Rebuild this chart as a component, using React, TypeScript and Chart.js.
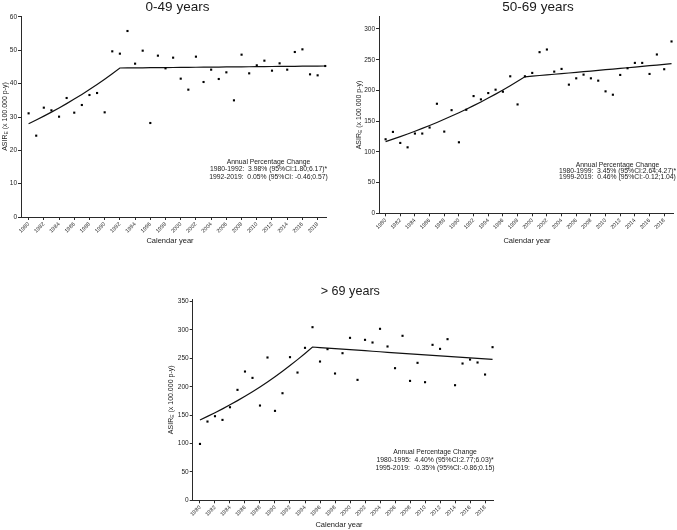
import React, { useEffect, useRef } from "react";
import { Chart, registerables } from "chart.js";

Chart.register(...registerables);

const FONT = "'Liberation Sans', Arial, Helvetica, sans-serif";
const INK = "#1a1a1a";

// Calendar years of the series
const years = [
  1980, 1981, 1982, 1983, 1984, 1985, 1986, 1987, 1988, 1989,
  1990, 1991, 1992, 1993, 1994, 1995, 1996, 1997, 1998, 1999,
  2000, 2001, 2002, 2003, 2004, 2005, 2006, 2007, 2008, 2009,
  2010, 2011, 2012, 2013, 2014, 2015, 2016, 2017, 2018, 2019,
];

// Labelled years on the x axis
const yearTicks = [
  1980, 1982, 1984, 1986, 1988, 1990, 1992, 1994, 1996, 1998,
  2000, 2002, 2004, 2006, 2008, 2010, 2012, 2014, 2016, 2018,
];

// Age-standardised incidence rates (x 100.000 p-y)
const asir0to49 = [
  31.1, 24.4, 32.8, 32.0, 30.1, 35.7, 31.3, 33.6, 36.6, 37.2,
  31.4, 49.7, 49.0, 55.8, 46.0, 49.9, 28.2, 48.4, 44.6, 47.8,
  41.5, 38.2, 48.1, 40.5, 44.2, 41.4, 43.4, 35.0, 48.7, 43.1,
  45.5, 46.9, 43.9, 46.1, 44.2, 49.5, 50.3, 42.8, 42.5, 45.3,
];

const asir50to69 = [
  120.5, 132.5, 114.5, 107.4, 129.8, 129.8, 139.6, 178.3, 133.0, 167.9,
  115.6, 168.5, 190.8, 185.4, 195.7, 201.2, 197.9, 223.0, 177.2, 223.0,
  228.5, 262.3, 266.6, 230.6, 235.0, 209.4, 219.7, 225.7, 219.7, 215.9,
  198.5, 193.0, 225.2, 236.1, 244.8, 244.8, 226.8, 258.5, 234.5, 279.7,
];

const asirOver69 = [
  99.3, 138.7, 148.1, 141.6, 163.9, 194.5, 226.8, 215.6, 166.9, 251.5,
  157.5, 188.6, 252.1, 225.0, 268.5, 304.9, 244.4, 266.2, 223.3, 259.1,
  286.1, 212.1, 282.6, 277.9, 302.0, 270.9, 232.7, 289.7, 210.3, 242.1,
  208.0, 273.8, 266.7, 283.8, 202.7, 240.9, 247.9, 242.7, 221.5, 269.7,
];

// Joinpoint models: segment limits, fitted rate at the joinpoint,
// annual percentage change per segment and its 95% CI
const joins0to49 = [1980, 1992, 2019];
const joinRate0to49 = 44.7;
const apc0to49 = [3.98, 0.05];
const ci0to49 = ["1.80;6.17", " -0.46;0.57"];
const sig0to49 = [true, false];

const joins50to69 = [1980, 1999, 2019];
const joinRate50to69 = 222.2;
const apc50to69 = [3.45, 0.46];
const ci50to69 = ["2.64;4.27", "-0.12;1.04"];
const sig50to69 = [true, false];

const joinsOver69 = [1980, 1995, 2019];
const joinRateOver69 = 270.0;
const apcOver69 = [4.4, -0.35];
const ciOver69 = ["2.77;6.03", "-0.86;0.15"];
const sigOver69 = [true, false];

type PanelSpec = {
  title: string;
  values: number[];
  joins: number[];
  joinRate: number;
  apc: number[];
  ci: string[];
  sig: boolean[];
  yMax: number;
  yStep: number;
  xMin: number;
  xMax: number;
  box: { left: number; top: number; width: number; height: number };
  area: { yAxisWidth: number; xAxisHeight: number; padTop: number; padRight: number };
  text: {
    titleSize: number;
    titleX: number;
    titleBase: number;
    yTitleX: number;
    xTitleX: number;
    xTitleY: number;
    apcX: number;
    apcY: number[];
  };
};

function trendLine(spec: PanelSpec) {
  const j = spec.joins[1];
  return years.map((yr) => {
    const seg = yr <= j ? 0 : 1;
    return { x: yr, y: spec.joinRate * Math.pow(1 + spec.apc[seg] / 100, yr - j) };
  });
}

function apcLabels(spec: PanelSpec) {
  const lines = ["Annual Percentage Change"];
  for (let i = 0; i < spec.apc.length; i++) {
    lines.push(
      `${spec.joins[i]}-${spec.joins[i + 1]}:  ${spec.apc[i].toFixed(2)}% (95%CI:${spec.ci[i]})${
        spec.sig[i] ? "*" : ""
      }`
    );
  }
  return lines;
}

const panels: PanelSpec[] = [
  {
    title: "0-49 years",
    values: asir0to49,
    joins: joins0to49,
    joinRate: joinRate0to49,
    apc: apc0to49,
    ci: ci0to49,
    sig: sig0to49,
    yMax: 60.3,
    yStep: 10,
    xMin: 1979,
    xMax: 2019.1,
    box: { left: 0, top: 0, width: 340, height: 250 },
    area: { yAxisWidth: 21, xAxisHeight: 33, padTop: 16, padRight: 14 },
    text: {
      titleSize: 13.5,
      titleX: 177.5,
      titleBase: 10.5,
      yTitleX: 4,
      xTitleX: 170,
      xTitleY: 241,
      apcX: 268.5,
      apcY: [162.3, 169.5, 176.7],
    },
  },
  {
    title: "50-69 years",
    values: asir50to69,
    joins: joins50to69,
    joinRate: joinRate50to69,
    apc: apc50to69,
    ci: ci50to69,
    sig: sig50to69,
    yMax: 320,
    yStep: 50,
    xMin: 1979.1,
    xMax: 2019.2,
    box: { left: 340, top: 0, width: 337, height: 250 },
    area: { yAxisWidth: 39, xAxisHeight: 36.7, padTop: 16.7, padRight: 0.5 },
    text: {
      titleSize: 13.5,
      titleX: 538,
      titleBase: 11,
      yTitleX: 358,
      xTitleX: 527,
      xTitleY: 241,
      apcX: 617.5,
      apcY: [164.7, 171, 177.3],
    },
  },
  {
    title: "> 69 years",
    values: asirOver69,
    joins: joinsOver69,
    joinRate: joinRateOver69,
    apc: apcOver69,
    ci: ciOver69,
    sig: sigOver69,
    yMax: 354,
    yStep: 50,
    xMin: 1979.03,
    xMax: 2019.1,
    box: { left: 120, top: 255, width: 420, height: 275 },
    area: { yAxisWidth: 72.7, xAxisHeight: 29.7, padTop: 44.3, padRight: 46.7 },
    text: {
      titleSize: 12.6,
      titleX: 350.3,
      titleBase: 294.7,
      yTitleX: 170,
      xTitleX: 339,
      xTitleY: 525,
      apcX: 435,
      apcY: [452.3, 460.3, 468],
    },
  },
];

function Panel({ spec }: { spec: PanelSpec }) {
  const ref = useRef<HTMLCanvasElement | null>(null);

  useEffect(() => {
    const canvas = ref.current;
    if (!canvas) return;
    const ox = spec.box.left;
    const oy = spec.box.top;
    const lines = apcLabels(spec);

    const overlay = {
      id: "panelText",
      afterDraw(chart: any) {
        const ctx: CanvasRenderingContext2D = chart.ctx;
        const a = chart.chartArea;
        const t = spec.text;
        ctx.save();
        ctx.fillStyle = INK;

        ctx.font = `${t.titleSize}px ${FONT}`;
        ctx.textAlign = "center";
        ctx.textBaseline = "alphabetic";
        ctx.fillText(spec.title, t.titleX - ox, t.titleBase - oy);

        ctx.textBaseline = "middle";
        ctx.font = `7.5px ${FONT}`;
        ctx.fillText("Calendar year", t.xTitleX - ox, t.xTitleY - oy);

        ctx.font = `6.8px ${FONT}`;
        lines.forEach((s, i) => ctx.fillText(s, t.apcX - ox, t.apcY[i] - oy));

        // rotated y-axis title with subscript E
        const big = `7px ${FONT}`;
        const small = `5px ${FONT}`;
        const p1 = "ASIR";
        const p2 = "E";
        const p3 = " (x 100.000 p-y)";
        ctx.font = big;
        const w1 = ctx.measureText(p1).width;
        const w3 = ctx.measureText(p3).width;
        ctx.font = small;
        const w2 = ctx.measureText(p2).width;
        const total = w1 + w2 + w3;
        ctx.translate(t.yTitleX - ox, (a.top + a.bottom) / 2);
        ctx.rotate(-Math.PI / 2);
        ctx.textAlign = "left";
        ctx.textBaseline = "alphabetic";
        let x = -total / 2;
        ctx.font = big;
        ctx.fillText(p1, x, 2.5);
        x += w1;
        ctx.font = small;
        ctx.fillText(p2, x, 4.2);
        x += w2;
        ctx.font = big;
        ctx.fillText(p3, x, 2.5);
        ctx.restore();
      },
    };

    const axisCommon = {
      border: { display: true, color: "#2a2a2a", width: 1 },
      grid: {
        display: true,
        drawOnChartArea: false,
        drawTicks: true,
        tickLength: 3,
        tickWidth: 1,
        color: "#2a2a2a",
      },
    };

    const chart = new Chart(canvas, {
      type: "scatter",
      data: {
        datasets: [
          {
            label: "ASIR",
            data: years.map((yr, i) => ({ x: yr, y: spec.values[i] })),
            pointStyle: "rect",
            pointRadius: 1.5,
            pointBorderWidth: 0,
            backgroundColor: "#000",
            borderColor: "#000",
            showLine: false,
            clip: false as any,
          },
          {
            label: "Joinpoint",
            data: trendLine(spec),
            showLine: true,
            pointRadius: 0,
            borderColor: "#111",
            borderWidth: 1.2,
            tension: 0,
            clip: false as any,
          },
        ],
      },
      options: {
        responsive: false,
        animation: false,
        devicePixelRatio: 1,
        layout: {
          padding: { top: spec.area.padTop, right: spec.area.padRight, left: 0, bottom: 0 },
        },
        plugins: {
          legend: { display: false },
          title: { display: false },
          tooltip: { enabled: false },
        },
        scales: {
          x: {
            type: "linear",
            min: spec.xMin,
            max: spec.xMax,
            ...axisCommon,
            ticks: {
              autoSkip: false,
              includeBounds: false,
              minRotation: 45,
              maxRotation: 45,
              padding: 1,
              color: INK,
              font: { family: FONT, size: 5.5 },
              callback: (v: any) => String(v),
            },
            afterBuildTicks: (s: any) => {
              s.ticks = yearTicks.map((v) => ({ value: v }));
            },
            afterFit: (s: any) => {
              s.height = spec.area.xAxisHeight;
            },
          },
          y: {
            type: "linear",
            min: 0,
            max: spec.yMax,
            ...axisCommon,
            ticks: {
              stepSize: spec.yStep,
              includeBounds: false,
              padding: 1,
              color: INK,
              font: { family: FONT, size: 6.5 },
              callback: (v: any) => String(v),
            },
            afterFit: (s: any) => {
              s.width = spec.area.yAxisWidth;
            },
          },
        },
      } as any,
      plugins: [overlay],
    });

    return () => chart.destroy();
  }, [spec]);

  return (
    <canvas
      ref={ref}
      width={spec.box.width}
      height={spec.box.height}
      style={{
        position: "absolute",
        left: spec.box.left,
        top: spec.box.top,
        width: spec.box.width,
        height: spec.box.height,
      }}
    />
  );
}

export default function App() {
  return (
    <div
      style={{
        position: "absolute",
        left: 0,
        top: 0,
        width: 677,
        height: 530,
        background: "#fff",
        overflow: "hidden",
      }}
    >
      {panels.map((p) => (
        <Panel key={p.title} spec={p} />
      ))}
    </div>
  );
}
